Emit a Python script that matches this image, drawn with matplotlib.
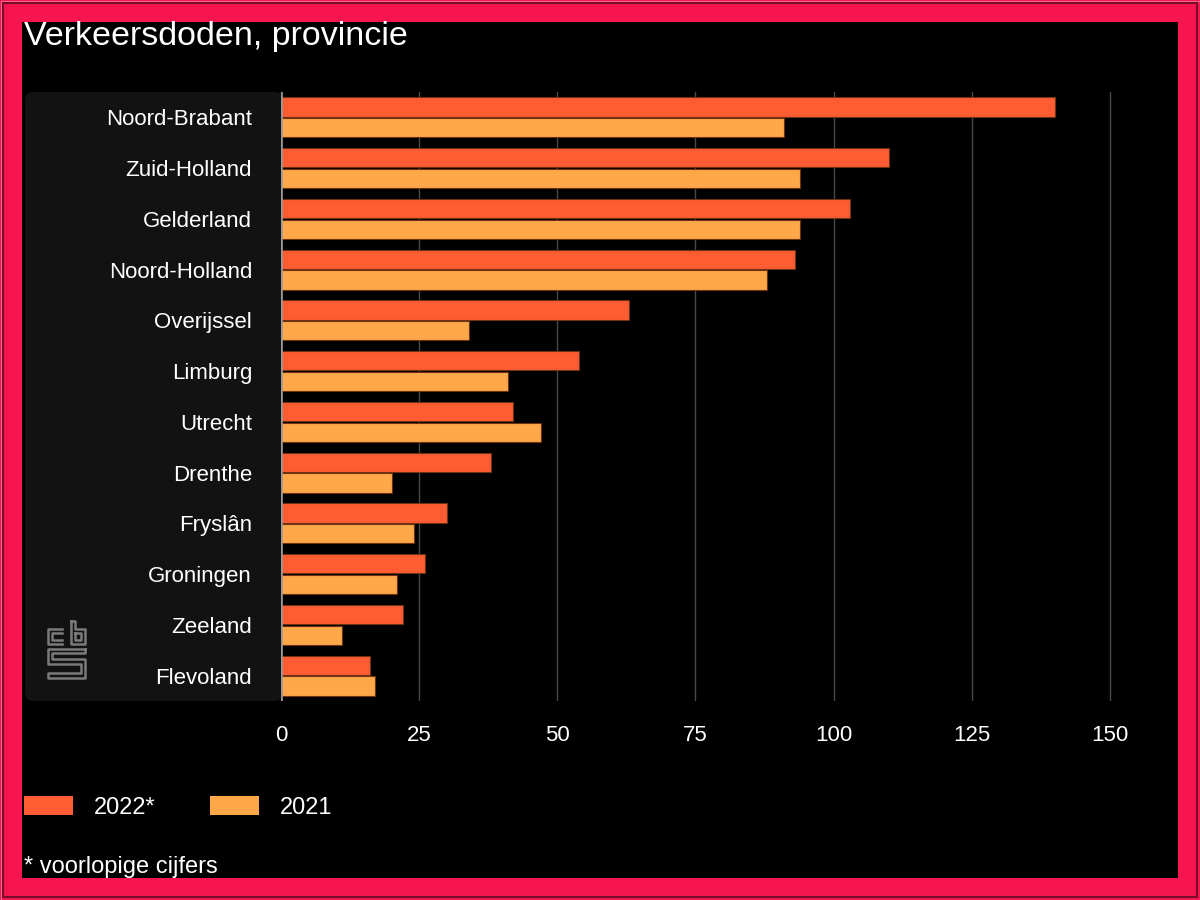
import matplotlib
matplotlib.use("Agg")
import matplotlib.pyplot as plt
from matplotlib.patches import Rectangle, FancyBboxPatch
from matplotlib.lines import Line2D
import numpy as np

plt.rcParams['font.family'] = ['Liberation Sans', 'DejaVu Sans']

# data
provinces = ['Noord-Brabant', 'Zuid-Holland', 'Gelderland', 'Noord-Holland', 'Overijssel',
             'Limburg', 'Utrecht', 'Drenthe', 'Fryslân', 'Groningen', 'Zeeland', 'Flevoland']
deaths_2022 = [140, 110, 103, 93, 63, 54, 42, 38, 30, 26, 22, 16]
deaths_2021 = [91, 94, 94, 88, 34, 41, 47, 20, 24, 21, 11, 17]
series_names = ['2022*', '2021']
x_ticks = [0, 25, 50, 75, 100, 125, 150]

title = 'Verkeersdoden, provincie'
footnote = '* voorlopige cijfers'

col_2022 = '#FF5C33'
col_2021 = '#FFA84A'
edge = '#6E3210'

W, H = 1200, 900


def fx(px):
    return px / W


def fy(py):
    return 1 - py / H


fig = plt.figure(figsize=(12, 9), dpi=100, facecolor='#F7154F')

# frame + black inner area
fig.patches.append(Rectangle((fx(22), fy(878)), fx(1156), 856 / H, transform=fig.transFigure,
                             facecolor='black', edgecolor='none', zorder=-3))
fig.patches.append(Rectangle((fx(0.5), fy(899.5)), fx(1199), 899 / H, transform=fig.transFigure,
                             facecolor='none', edgecolor='#F2708F', lw=0.8, zorder=-2))
fig.patches.append(Rectangle((fx(2.5), fy(896.5)), fx(1194), 894 / H, transform=fig.transFigure,
                             facecolor='none', edgecolor='#7A0C2C', lw=1.5, zorder=-2))

# label panel (rounded, stops at the axis line)
fig.patches.append(FancyBboxPatch((fx(25), fy(701)), fx(258), 609 / H,
                                  boxstyle='round,pad=0,rounding_size=0.0067',
                                  mutation_aspect=1.333,
                                  transform=fig.transFigure, facecolor='#121212',
                                  edgecolor='none', zorder=-1))

ax = fig.add_axes([fx(281.2), fy(701), fx(1165 - 281.2), 609 / H])
ax.set_facecolor('none')

y = np.arange(len(provinces))
h = 0.38
ax.barh(y - 0.205, deaths_2022, height=h, color=col_2022, edgecolor=edge, lw=0.8, zorder=3)
ax.barh(y + 0.205, deaths_2021, height=h, color=col_2021, edgecolor=edge, lw=0.8, zorder=3)

ax.set_xlim(0, 160)
ax.set_ylim(len(provinces) - 0.5, -0.5)
ax.set_xticks(x_ticks)
ax.set_xticklabels([str(t) for t in x_ticks])
ax.set_yticks(y)
ax.set_yticklabels(provinces)
ax.tick_params(axis='x', length=0, pad=17, labelsize=16, labelcolor='white')
ax.tick_params(axis='y', length=0, pad=21, labelsize=16, labelcolor='white')
for s in ax.spines.values():
    s.set_visible(False)
ax.set_axisbelow(True)
ax.xaxis.grid(True, color='#484848', lw=1)
ax.axvline(0, color='#9A9A9A', lw=2.6, zorder=4)

# title, legend, footnote
fig.text(fx(24), fy(45), title, color='white', fontsize=24.5, va='baseline', ha='left')
for xp, name, c in [(24, series_names[0], col_2022), (210, series_names[1], col_2021)]:
    fig.patches.append(Rectangle((fx(xp), fy(815)), fx(49), 19 / H, transform=fig.transFigure,
                                 facecolor=c, edgecolor='none'))
    fig.text(fx(xp + 70), fy(814), name, color='white', fontsize=17, va='baseline', ha='left')
fig.text(fx(24), fy(873), footnote, color='white', fontsize=17, va='baseline', ha='left')

# cbs logo (rough line drawing)
logo = [
    [(62, 629), (48, 629), (48, 644), (62, 644)],
    [(62, 633), (52, 633), (52, 640), (62, 640)],
    [(71, 621), (71, 644), (85, 644), (85, 629), (75, 629), (75, 621), (71, 621)],
    [(75, 633), (81, 633), (81, 640), (75, 640), (75, 633)],
    [(85, 649), (48, 649), (48, 664), (81, 664), (81, 673), (48, 673), (48, 678),
     (85, 678), (85, 659), (52, 659), (52, 653), (85, 653), (85, 649)],
]
for path in logo:
    xs = [fx(p[0]) for p in path]
    ys = [fy(p[1]) for p in path]
    fig.add_artist(Line2D(xs, ys, transform=fig.transFigure, color='#7A7A7A', lw=1.8, zorder=2))

fig.savefig('out.png', dpi=100, facecolor=fig.get_facecolor())
